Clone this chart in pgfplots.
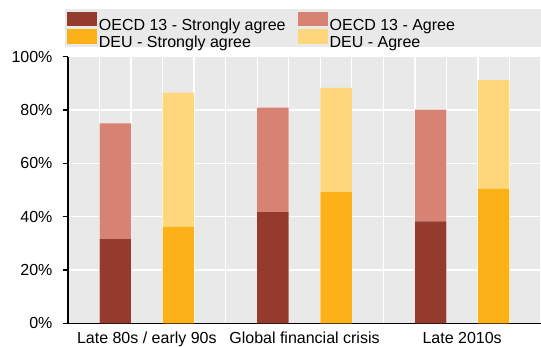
\documentclass[border=0pt]{standalone}
\usepackage{fontspec}
\setmainfont{Liberation Sans}
\usepackage{pgfplots}
\pgfplotsset{compat=1.18}
\definecolor{oecdS}{HTML}{953B2E}
\definecolor{oecdA}{HTML}{D78374}
\definecolor{deuS}{HTML}{FDB119}
\definecolor{deuA}{HTML}{FED67C}
\definecolor{bg}{HTML}{E9E9E9}
\begin{document}
\begin{tikzpicture}[font=\fontsize{16}{19}\selectfont]
\useasboundingbox (-68pt,-22.7pt) rectangle (473pt,323.3pt);
\fill[bg] (-3pt,276.6pt) rectangle (473pt,314pt);
\begin{axis}[
  scale only axis, width=473pt, height=266.7pt,
  xmin=0, xmax=15, ymin=0, ymax=100,
  axis x line=bottom, axis y line=left,
  axis line style={line width=1.2pt, -},
  axis background/.style={fill=bg},
  ybar stacked, bar width=1,
  xtick={2.5,7.5,12.5},
  xticklabels={Late 80s / early 90s, Global financial crisis, Late 2010s},
  minor xtick={0,1,...,15},
  xminorgrids=true, ymajorgrids=true, xmajorgrids=false,
  grid style={white, line width=1.3pt},
  minor grid style={white, line width=1.3pt},
  ytick={0,20,...,100},
  yticklabels={0\%,20\%,40\%,60\%,80\%,100\%},
  yticklabel style={xshift=-7pt},
  tick align=outside, major tick length=5pt,
  y tick style={black, line width=1.2pt},
  x tick style={draw=none},
  legend columns=2,
  legend style={at={(axis description cs:0,1)}, anchor=north west,
    xshift=-1.3pt, yshift=44.9pt, draw=none, fill=none, inner sep=0pt,
    row sep=-4.4pt,
    /tikz/every even column/.append style={column sep=10pt}},
  legend cell align=left,
  legend image code/.code={\fill[#1] (0pt,-1pt) rectangle (30pt,13.3pt);},
]
\addplot[fill=oecdS, draw=none] coordinates {(1.5,31.6) (3.5,0) (6.5,41.7) (8.5,0) (11.5,38.2) (13.5,0)};
\addplot[fill=oecdA, draw=none] coordinates {(1.5,43.4) (3.5,0) (6.5,39.2) (8.5,0) (11.5,41.9) (13.5,0)};
\addplot[fill=deuS, draw=none] coordinates {(1.5,0) (3.5,36.2) (6.5,0) (8.5,49.2) (11.5,0) (13.5,50.4)};
\addplot[fill=deuA, draw=none] coordinates {(1.5,0) (3.5,50.3) (6.5,0) (8.5,39.1) (11.5,0) (13.5,40.8)};
\legend{OECD 13 - Strongly agree, OECD 13 - Agree, DEU - Strongly agree, DEU - Agree}
\end{axis}
\end{tikzpicture}
\end{document}
